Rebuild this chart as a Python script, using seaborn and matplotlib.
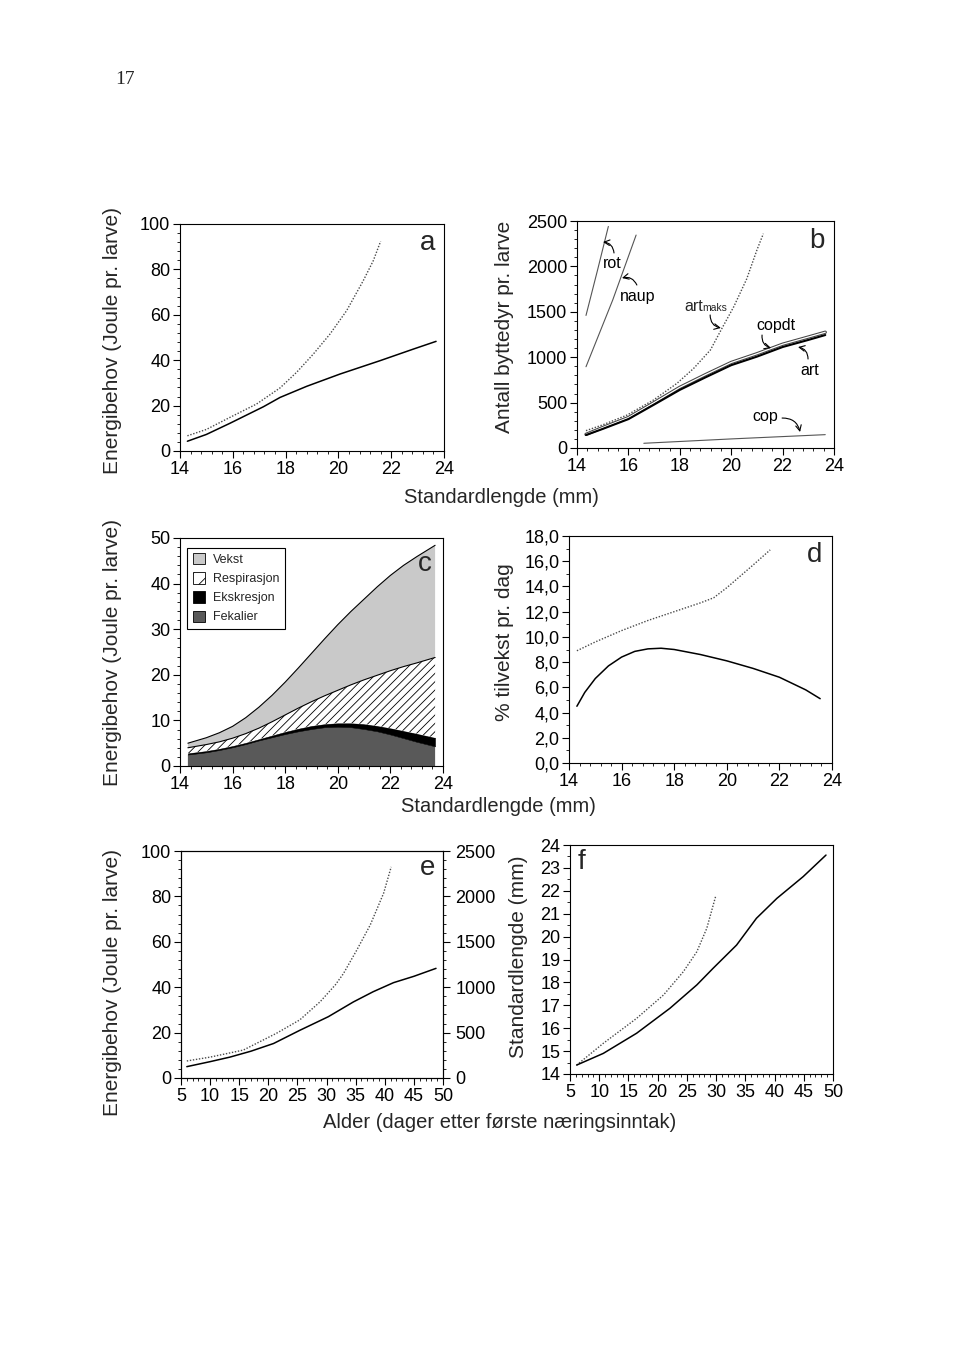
import numpy as np
import pandas as pd
import matplotlib
matplotlib.use("Agg")
import matplotlib.pyplot as plt
import seaborn as sns
from matplotlib.ticker import MultipleLocator, FuncFormatter
from matplotlib.patches import Patch

# ---------------- data ----------------
# panel a: energy need vs standard length
a_solid_x = [14.28, 15.0, 15.89, 17.16, 17.79, 18.8, 20.06, 21.58, 22.84, 23.7]
a_solid_y = [4.3, 7.3, 12.2, 19.5, 23.6, 28.5, 33.9, 39.8, 44.9, 48.3]
a_dot_x = [14.28, 15.0, 15.89, 16.9, 17.79, 18.42, 19.05, 19.68, 20.31, 20.94, 21.32, 21.6]
a_dot_y = [6.7, 9.5, 14.8, 20.7, 27.8, 34.7, 42.7, 51.5, 61.8, 75.0, 83.8, 92.4]

# panel b: number of prey per larva
b_x = [14.35, 15, 16, 17, 18, 19, 20, 21, 22, 23, 23.66]
b_art = [143, 210, 318, 478, 640, 778, 912, 1006, 1112, 1190, 1244]
b_copdt = [150, 225, 335, 500, 668, 808, 942, 1038, 1143, 1222, 1275]
b_artmaks_x = [14.35, 15, 15.95, 16.98, 17.89, 18.54, 19.19, 19.64, 20.1, 20.6, 21.0, 21.25]
b_artmaks = [191, 255, 363, 529, 712, 877, 1079, 1318, 1556, 1860, 2180, 2360]
b_rot_x = [14.35, 14.8, 15.22]
b_rot = [1460, 1960, 2440]
b_naup_x = [14.35, 15.39, 16.3]
b_naup = [895, 1630, 2345]
b_cop_x = [16.6, 20.0, 23.66]
b_cop = [52, 100, 147]

# panel c: stacked energy budget (cumulative tops)
c_x = [14.3, 15, 15.5, 16, 16.5, 17, 17.5, 18, 18.5, 19, 19.5, 20, 20.5, 21, 21.5, 22, 22.5, 23, 23.7]
c_fekalier = [2.5, 3.0, 3.5, 4.1, 4.8, 5.6, 6.3, 7.0, 7.6, 8.1, 8.5, 8.6, 8.5, 8.1, 7.6, 6.9, 6.1, 5.3, 4.3]
c_ekskresjon_top = [2.8, 3.3, 3.8, 4.4, 5.1, 5.9, 6.7, 7.5, 8.2, 8.8, 9.2, 9.4, 9.4, 9.2, 8.8, 8.3, 7.7, 7.1, 6.2]
c_respirasjon_top = [4.0, 4.7, 5.3, 6.1, 7.1, 8.3, 9.7, 11.2, 12.7, 14.1, 15.4, 16.6, 17.8, 18.9, 19.9, 20.9, 21.8, 22.6, 23.8]
c_vekst_top = [5.0, 6.2, 7.3, 8.7, 10.6, 12.9, 15.5, 18.4, 21.5, 24.7, 27.9, 31.0, 33.9, 36.6, 39.3, 41.8, 44.0, 45.9, 48.4]
c_labels = ["Vekst", "Respirasjon", "Ekskresjon", "Fekalier"]

# panel d: % growth per day
d_dot_x = [14.3, 15, 16, 17, 18, 19, 19.5, 20, 21, 21.65]
d_dot_y = [8.9, 9.6, 10.5, 11.3, 12.0, 12.7, 13.1, 13.9, 15.7, 16.9]
d_solid_x = [14.3, 14.6, 15, 15.5, 16, 16.5, 17, 17.5, 18, 19, 20, 21, 22, 23, 23.55]
d_solid_y = [4.5, 5.6, 6.7, 7.7, 8.4, 8.85, 9.05, 9.1, 9.0, 8.6, 8.1, 7.5, 6.8, 5.8, 5.1]

# panel e: energy need vs age
e_solid_x = [6.0, 10, 13.4, 17, 20.9, 25.4, 30.3, 34.6, 38, 41.5, 45, 48.8]
e_solid_y = [5.0, 7.2, 9.2, 11.8, 15.2, 21.0, 27.0, 33.5, 38.0, 42.0, 44.8, 48.3]
e_dot_x = [6.0, 10, 15.7, 21.4, 25.4, 28.9, 31.5, 32.9, 35.2, 37.5, 39.8, 41.1]
e_dot_y = [7.5, 9.2, 12.3, 19.7, 25.6, 33.6, 41.0, 46.0, 56.4, 67.4, 81.4, 93.0]

# panel f: standard length vs age
f_solid_x = [6.14, 10.7, 16.4, 22.1, 26.7, 29.5, 33.5, 36.9, 40.4, 44.9, 48.8]
f_solid_y = [14.39, 14.9, 15.78, 16.87, 17.89, 18.62, 19.63, 20.8, 21.67, 22.62, 23.56]
f_dot_x = [6.14, 10.7, 16.4, 21.0, 24.4, 26.7, 28.4, 29.9]
f_dot_y = [14.39, 15.34, 16.43, 17.45, 18.47, 19.34, 20.36, 21.74]

# ---------------- style ----------------
sns.set_style("ticks")
plt.rcParams['font.family'] = ['Liberation Sans', 'DejaVu Sans']
plt.rcParams['hatch.linewidth'] = 0.6
plt.rcParams['hatch.color'] = 'black'

W, H = 960, 1367
fig = plt.figure(figsize=(9.6, 13.67), dpi=100)
fig.patch.set_facecolor('white')

TICK = 13


def rect(l, t, r, b):
    return [l / W, 1 - b / H, (r - l) / W, (b - t) / H]


def ftext(px, py, s, **kw):
    fig.text(px / W, 1 - py / H, s, **kw)


def style(ax, xmaj, xmin, ymaj, ymin):
    ax.xaxis.set_major_locator(MultipleLocator(xmaj))
    ax.xaxis.set_minor_locator(MultipleLocator(xmin))
    ax.yaxis.set_major_locator(MultipleLocator(ymaj))
    ax.yaxis.set_minor_locator(MultipleLocator(ymin))
    ax.tick_params(which='major', direction='out', length=5, width=0.8,
                   labelsize=TICK, pad=2, color='black', labelcolor='black')
    ax.tick_params(which='minor', direction='out', length=2.5, width=0.6, color='black')
    for s in ax.spines.values():
        s.set_linewidth(0.8)
        s.set_color('black')
    ax.set_xlabel('')
    ax.set_ylabel('')


DOT = dict(color='#4a4a4a', linewidth=1.0, linestyle=(0, (1, 1.2)))
SOL = dict(color='black', linewidth=1.1)

# ---------------- panel a ----------------
ax_a = fig.add_axes(rect(180, 224, 444, 451))
sns.lineplot(x=a_dot_x, y=a_dot_y, ax=ax_a, **DOT)
sns.lineplot(x=a_solid_x, y=a_solid_y, ax=ax_a, **SOL)
ax_a.set_xlim(14, 24)
ax_a.set_ylim(0, 100)
style(ax_a, 2, 0.4, 20, 4)

# ---------------- panel b ----------------
ax_b = fig.add_axes(rect(577, 221, 834, 448))
sns.lineplot(x=b_rot_x, y=b_rot, ax=ax_b, color='#555555', linewidth=0.8)
sns.lineplot(x=b_naup_x, y=b_naup, ax=ax_b, color='#555555', linewidth=0.8)
sns.lineplot(x=b_artmaks_x, y=b_artmaks, ax=ax_b, **DOT)
sns.lineplot(x=b_x, y=b_copdt, ax=ax_b, color='#444444', linewidth=2.4)
sns.lineplot(x=b_x, y=b_copdt, ax=ax_b, color='white', linewidth=0.9)
sns.lineplot(x=b_x, y=b_art, ax=ax_b, color='black', linewidth=1.5)
sns.lineplot(x=b_cop_x, y=b_cop, ax=ax_b, color='#555555', linewidth=0.8)
ax_b.set_xlim(14, 24)
ax_b.set_ylim(0, 2500)
style(ax_b, 2, 0.4, 500, 100)

lab = dict(fontsize=11.5, ha='center', va='center', color='black')
arr = dict(arrowstyle='->', lw=0.8, color='black', shrinkA=0, shrinkB=0)
ax_b.text(15.36, 2037, "rot", **lab)
ax_b.annotate('', xy=(15.01, 2269), xytext=(15.44, 2148),
              arrowprops=dict(connectionstyle='arc3,rad=0.4', **arr))
ax_b.text(16.37, 1663, "naup", **lab)
ax_b.annotate('', xy=(15.75, 1872), xytext=(16.33, 1795),
              arrowprops=dict(connectionstyle='arc3,rad=0.4', **arr))
ax_b.text(18.18, 1553, "art", fontsize=11.5, ha='left', va='center')
ax_b.text(18.88, 1538, "maks", fontsize=7.5, ha='left', va='center')
ax_b.annotate('', xy=(19.6, 1322), xytext=(19.18, 1465),
              arrowprops=dict(connectionstyle='arc3,rad=0.4', **arr))
ax_b.text(21.74, 1344, "copdt", **lab)
ax_b.annotate('', xy=(21.55, 1101), xytext=(21.2, 1244),
              arrowprops=dict(connectionstyle='arc3,rad=0.4', **arr))
ax_b.text(23.07, 859, "art", **lab)
ax_b.annotate('', xy=(22.6, 1112), xytext=(22.99, 980),
              arrowprops=dict(connectionstyle='arc3,rad=0.4', **arr))
ax_b.text(21.32, 352, "cop", **lab)
ax_b.annotate('', xy=(22.68, 176), xytext=(21.98, 330),
              arrowprops=dict(connectionstyle='arc3,rad=-0.4', **arr))

# ---------------- panel c ----------------
ax_c = fig.add_axes(rect(180, 538, 443, 766))
vekst_col, fek_col = '#c9c9c9', '#595959'
ax_c.fill_between(c_x, 0, c_fekalier, facecolor=fek_col, edgecolor='none')
ax_c.fill_between(c_x, c_fekalier, c_ekskresjon_top, facecolor='black', edgecolor='black', linewidth=0.3)
ax_c.fill_between(c_x, c_ekskresjon_top, c_respirasjon_top, facecolor='white',
                  edgecolor='black', hatch='////', linewidth=0)
ax_c.fill_between(c_x, c_respirasjon_top, c_vekst_top, facecolor=vekst_col, edgecolor='none')
sns.lineplot(x=c_x, y=c_vekst_top, ax=ax_c, color='black', linewidth=0.8)
sns.lineplot(x=c_x, y=c_respirasjon_top, ax=ax_c, color='black', linewidth=0.8)
ax_c.set_xlim(14, 24)
ax_c.set_ylim(0, 50)
style(ax_c, 2, 0.4, 10, 2)
handles = [Patch(facecolor=vekst_col, edgecolor='black', linewidth=0.6, label=c_labels[0]),
           Patch(facecolor='white', edgecolor='black', hatch='//', linewidth=0.6, label=c_labels[1]),
           Patch(facecolor='black', edgecolor='black', linewidth=0.6, label=c_labels[2]),
           Patch(facecolor=fek_col, edgecolor='black', linewidth=0.6, label=c_labels[3])]
leg = ax_c.legend(handles=handles, loc='upper left', bbox_to_anchor=(0.027, 0.958),
                  fontsize=9, frameon=True, fancybox=False, edgecolor='black',
                  framealpha=1, borderpad=0.45, handlelength=1.0, handleheight=1.0,
                  labelspacing=0.5, handletextpad=0.65, borderaxespad=0)
leg.get_frame().set_linewidth(0.8)

# ---------------- panel d ----------------
ax_d = fig.add_axes(rect(569, 536, 832, 763))
sns.lineplot(x=d_dot_x, y=d_dot_y, ax=ax_d, **DOT)
sns.lineplot(x=d_solid_x, y=d_solid_y, ax=ax_d, **SOL)
ax_d.set_xlim(14, 24)
ax_d.set_ylim(0, 18)
style(ax_d, 2, 0.4, 2, 1)
ax_d.yaxis.set_major_formatter(FuncFormatter(lambda v, p: f"{v:.1f}".replace('.', ',')))

# ---------------- panel e ----------------
ax_e = fig.add_axes(rect(181, 851, 443, 1078))
sns.lineplot(x=e_dot_x, y=e_dot_y, ax=ax_e, **DOT)
sns.lineplot(x=e_solid_x, y=e_solid_y, ax=ax_e, **SOL)
ax_e.set_xlim(5, 50)
ax_e.set_ylim(0, 100)
style(ax_e, 5, 1, 20, 4)
ax_e2 = ax_e.twinx()
ax_e2.set_ylim(0, 2500)
ax_e2.yaxis.set_major_locator(MultipleLocator(500))
ax_e2.yaxis.set_minor_locator(MultipleLocator(100))
ax_e2.tick_params(which='major', direction='out', length=5, width=0.8,
                  labelsize=TICK, pad=4, color='black', labelcolor='black')
ax_e2.tick_params(which='minor', direction='out', length=2.5, width=0.6, color='black')
for s in ax_e2.spines.values():
    s.set_linewidth(0.8)
    s.set_color('black')
ax_e2.set_ylabel('')

# ---------------- panel f ----------------
ax_f = fig.add_axes(rect(570, 845, 833, 1074))
sns.lineplot(x=f_dot_x, y=f_dot_y, ax=ax_f, **DOT)
sns.lineplot(x=f_solid_x, y=f_solid_y, ax=ax_f, **SOL)
ax_f.set_xlim(5, 50)
ax_f.set_ylim(14, 24)
style(ax_f, 5, 1, 1, 0.5)

# ---------------- texts ----------------
ylab = dict(fontsize=15, rotation=90, ha='center', va='center')
ftext(113, 340, "Energibehov (Joule pr. larve)", **ylab)
ftext(505, 327, "Antall byttedyr pr. larve", **ylab)
ftext(113, 653, "Energibehov (Joule pr. larve)", **ylab)
ftext(505, 642, "% tilvekst pr. dag", **ylab)
ftext(113, 982, "Energibehov (Joule pr. larve)", **ylab)
ftext(519, 957, "Standardlengde (mm)", **ylab)

xlab = dict(fontsize=14.5, ha='center', va='center')
ftext(501, 497, "Standardlengde (mm)", **xlab)
ftext(498, 806, "Standardlengde (mm)", **xlab)
ftext(500, 1122, "Alder (dager etter første næringsinntak)", **xlab)

letter = dict(fontsize=20, ha='center', va='center')
ftext(428, 243, "a", **letter)
ftext(817, 241, "b", **letter)
ftext(425, 564, "c", **letter)
ftext(815, 555, "d", **letter)
ftext(428, 868, "e", **letter)
ftext(582, 862, "f", **letter)

ftext(125, 80, "17", fontsize=14, ha='center', va='center',
      family=['Liberation Serif', 'DejaVu Serif'])

fig.savefig("out.png", dpi=100, facecolor='white')
